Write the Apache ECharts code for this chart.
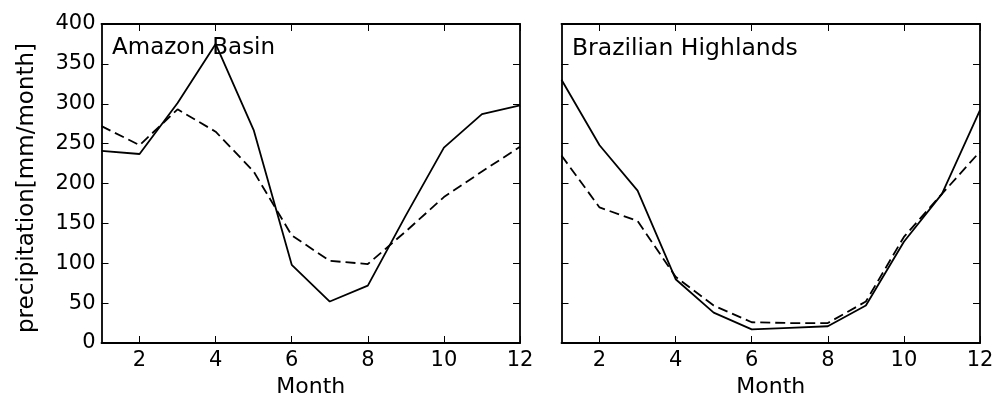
<!DOCTYPE html>
<html>
<head>
<meta charset="utf-8">
<script src="https://cdn.jsdelivr.net/npm/echarts@6/dist/echarts.min.js"></script>
<style>
html,body{margin:0;padding:0;background:#fff;}
#chart{width:998px;height:398px;}
</style>
</head>
<body>
<div id="chart"></div>
<script>
const months = [1,2,3,4,5,6,7,8,9,10,11,12];
const xTicks = [2,4,6,8,10,12];
const panelTitles = ['Amazon Basin', 'Brazilian Highlands'];
const amazonSolid  = [241, 237, 301, 375, 267, 98, 52, 72, 160, 245, 287, 298];
const amazonDashed = [272, 248, 293, 265, 215, 135, 103, 99, 140, 183, 215, 246];
const brazilSolid  = [330, 248, 191, 80, 38, 17, 19, 21, 47, 127, 187, 292];
const brazilDashed = [235, 170, 153, 83, 47, 26, 25, 25, 52, 133, 187, 240];
const yLabel = 'precipitation[mm/month]';
const xLabel = 'Month';

const FONT = 'DejaVu Sans';
const pair = arr => months.map((m, i) => [m, arr[i]]);
const axisLineStyle = {show: true, onZero: false, lineStyle: {color: '#000', width: 1.8}};
const tick = {show: true, inside: true, length: 7, lineStyle: {color: '#000', width: 1}};

function xAxes(gridIndex) {
  return [
    {type: 'value', gridIndex, min: 1, max: 12, position: 'bottom',
     axisLine: axisLineStyle, splitLine: {show: false},
     axisTick: Object.assign({customValues: xTicks}, tick),
     axisLabel: {customValues: xTicks, color: '#000', fontFamily: FONT, fontSize: 21, margin: 7},
     name: xLabel, nameLocation: 'middle', nameGap: 33,
     nameTextStyle: {color: '#000', fontFamily: FONT, fontSize: 22}},
    {type: 'value', gridIndex, min: 1, max: 12, position: 'top',
     axisLine: axisLineStyle, splitLine: {show: false},
     axisTick: Object.assign({customValues: xTicks}, tick),
     axisLabel: {show: false}}
  ];
}
function yAxes(gridIndex, showLabels) {
  return [
    {type: 'value', gridIndex, min: 0, max: 400, interval: 50, position: 'left',
     axisLine: axisLineStyle, splitLine: {show: false}, axisTick: tick,
     axisLabel: {show: showLabels, color: '#000', fontFamily: FONT, fontSize: 21, margin: 6},
     name: showLabels ? yLabel : '', nameLocation: 'middle', nameGap: 63,
     nameTextStyle: {color: '#000', fontFamily: FONT, fontSize: 23, padding: [0, 9, 0, 0]}},
    {type: 'value', gridIndex, min: 0, max: 400, interval: 50, position: 'right',
     axisLine: axisLineStyle, splitLine: {show: false}, axisTick: tick,
     axisLabel: {show: false}}
  ];
}
function line(data, xi, yi, dashed) {
  return {type: 'line', xAxisIndex: xi, yAxisIndex: yi, data: pair(data),
    symbol: 'none', silent: true, animation: false,
    lineStyle: {color: '#000', width: 1.8, type: dashed ? [10, 5] : 'solid'}};
}

const chart = echarts.init(document.getElementById('chart'));
chart.setOption({
  animation: false,
  backgroundColor: '#fff',
  title: [
    {text: panelTitles[0], left: 112, top: 37, textStyle: {color: '#000', fontFamily: FONT, fontSize: 23, fontWeight: 'normal'}, padding: 0},
    {text: panelTitles[1], left: 572, top: 37, textStyle: {color: '#000', fontFamily: FONT, fontSize: 23.5, fontWeight: 'normal'}, padding: 0}
  ],
  grid: [
    {left: 101.5, top: 24, width: 418.5, height: 319, containLabel: false, outerBoundsMode: 'none'},
    {left: 561.5, top: 24, width: 418.5, height: 319, containLabel: false, outerBoundsMode: 'none'}
  ],
  xAxis: [...xAxes(0), ...xAxes(1)],
  yAxis: [...yAxes(0, true), ...yAxes(1, false)],
  series: [
    line(amazonSolid, 0, 0, false),
    line(amazonDashed, 0, 0, true),
    line(brazilSolid, 2, 2, false),
    line(brazilDashed, 2, 2, true)
  ]
});
</script>
</body>
</html>
